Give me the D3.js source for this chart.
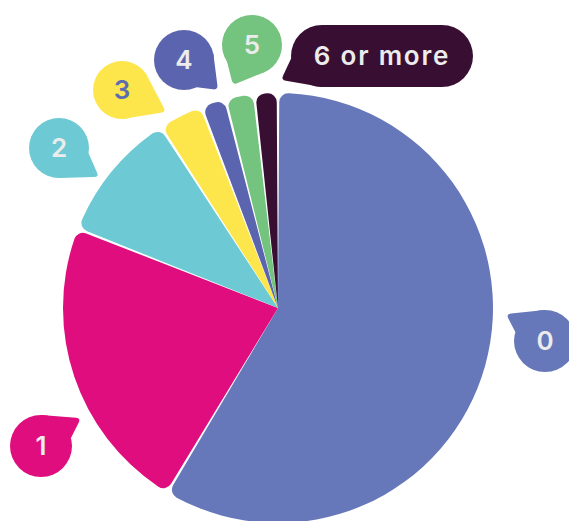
<!DOCTYPE html>
<html><head><meta charset="utf-8">
<script src="https://cdn.jsdelivr.net/npm/d3@7"></script>
<style>html,body{margin:0;padding:0;background:#fff;overflow:hidden}</style>
</head><body>
<svg id="chart" width="569" height="521"></svg>
<script>
// ---- data ----
const categories = ["0", "1", "2", "3", "4", "5", "6 or more"];
const values = [59.2, 22.5, 9.8, 3.2, 1.7, 2.0, 1.6];

// ---- styles ----
const colors = ["#6678b9", "#df0d7e", "#6dc9d3", "#fde64b", "#5b64ae", "#74c37e", "#380f33"];
const labelTextColors = ["#ececec", "#ececec", "#ececec", "#5b6db0", "#ececec", "#ececec", "#ececec"];

// ---- bubble layout (annotation positions) ----
// cx, cy: bubble centre; R: radius; w: half straight length (pill); tip: tail tip; a, b: attach angles (deg)
const bubbleLayout = [
  {cx: 545, cy: 341, R: 31, w: 0,  tip: [506, 314], a: -90, b: 197},
  {cx: 41,  cy: 446, R: 31, w: 0,  tip: [81, 418],  a: -90, b: -15},
  {cx: 59,  cy: 148, R: 30, w: 0,  tip: [99, 177],  a: 90,  b: 10},
  {cx: 122, cy: 90,  R: 29, w: 0,  tip: [166, 112], a: 90,  b: -20},
  {cx: 184, cy: 60,  R: 30, w: 0,  tip: [218, 90],  a: -12, b: 65},
  {cx: 252, cy: 45,  R: 30, w: 0,  tip: [233, 85],  a: 185, b: 75},
  {cx: 382, cy: 56,  R: 31, w: 60, tip: [281, 80],  a: 90,  b: 235}
];

const W = 569, H = 521;
const cx = 278, cy = 308, radius = 215;

const svg = d3.select("#chart");

const pie = d3.pie().sort(null).value(d => d).padAngle(0.012);
const arc = d3.arc().innerRadius(0).outerRadius(radius).cornerRadius(9);

const arcs = pie(values);

svg.append("g")
  .attr("transform", `translate(${cx},${cy})`)
  .selectAll("path")
  .data(arcs)
  .join("path")
  .attr("d", arc)
  .attr("fill", (d, i) => colors[i]);

function bubblePath(b) {
  const x1 = b.cx - b.w, x2 = b.cx + b.w, R = b.R, y = b.cy;
  const p = d3.path();
  p.moveTo(x1, y - R);
  p.lineTo(x2, y - R);
  p.arc(x2, y, R, -Math.PI / 2, Math.PI / 2, false);
  p.lineTo(x1, y + R);
  p.arc(x1, y, R, Math.PI / 2, Math.PI * 1.5, false);
  p.closePath();
  return p.toString();
}

function tailPath(b) {
  const ccx = b.tip[0] < b.cx ? b.cx - b.w : b.cx + b.w;
  const R = b.R;
  const rad = Math.PI / 180;
  const A = [ccx + R * Math.cos(b.a * rad), b.cy + R * Math.sin(b.a * rad)];
  const B = [ccx + R * Math.cos(b.b * rad), b.cy + R * Math.sin(b.b * rad)];
  const T = b.tip, rt = 5;
  const unit = (P) => {
    const dx = P[0] - T[0], dy = P[1] - T[1], l = Math.hypot(dx, dy);
    return [T[0] + dx / l * rt, T[1] + dy / l * rt];
  };
  const T1 = unit(A), T2 = unit(B);
  return `M${ccx},${b.cy}L${A[0]},${A[1]}L${T1[0]},${T1[1]}Q${T[0]},${T[1]} ${T2[0]},${T2[1]}L${B[0]},${B[1]}Z`;
}

const labels = svg.append("g").selectAll("g")
  .data(categories)
  .join("g");

labels.append("path")
  .attr("d", (d, i) => bubblePath(bubbleLayout[i]))
  .attr("fill", (d, i) => colors[i]);
labels.append("path")
  .attr("d", (d, i) => tailPath(bubbleLayout[i]))
  .attr("fill", (d, i) => colors[i]);
labels.append("text")
  .attr("x", (d, i) => bubbleLayout[i].cx)
  .attr("y", (d, i) => bubbleLayout[i].cy)
  .attr("dy", "0.36em")
  .attr("text-anchor", "middle")
  .attr("font-family", "Inter, 'Open Sans', sans-serif")
  .attr("font-weight", 600)
  .attr("font-size", 26)
  .attr("letter-spacing", (d) => d.length > 1 ? 1.8 : 0)
  .attr("fill", (d, i) => labelTextColors[i])
  .text(d => d);
</script>
</body></html>
